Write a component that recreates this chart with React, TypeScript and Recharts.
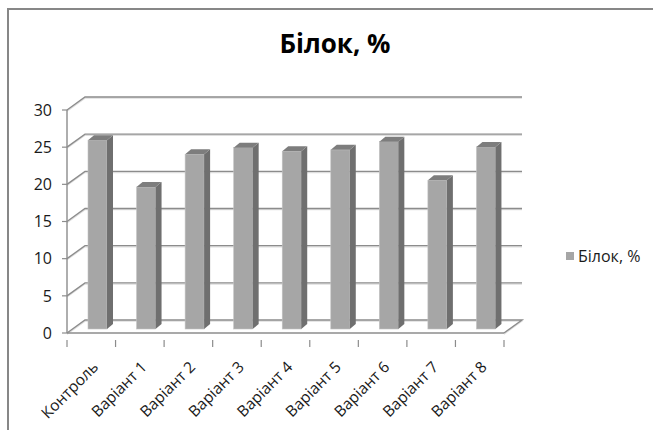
import React from "react";
import { BarChart, Bar, XAxis, YAxis, CartesianGrid } from "recharts";

const categories = ["Контроль", "Варіант 1", "Варіант 2", "Варіант 3", "Варіант 4", "Варіант 5", "Варіант 6", "Варіант 7", "Варіант 8"];
const proteinValues = [25.4, 19.1, 23.5, 24.4, 23.9, 24.1, 25.2, 20.0, 24.5];
const yTicks = [0, 5, 10, 15, 20, 25, 30];
const seriesName = "Білок, %";
const chartTitle = "Білок, %";

const data = categories.map((c, i) => ({ name: c, value: proteinValues[i] }));

const FONT = "'Open Sans', 'Noto Sans', sans-serif";
const GRID = "#8c8c8c";
const DX = 18;
const DY = -13;
const BAR_DX = 6;
const BAR_DY = -4;
const SIDE_DX = 6;
const SIDE_DY = -5;

const gridLine = (props: any) => {
  const { x1, x2, y1, index } = props;
  const isBottom = Math.abs(y1 - 333) < 2;
  const d = `M${x1},${y1} L${x1 + DX},${y1 + DY} L${x2 + DX},${y1 + DY}` + (isBottom ? ` L${x2},${y1}` : "");
  return (
    <g key={`gl-${index}`}>
      <path d={d} transform="translate(0,1.2)" fill="none" stroke="#dedede" strokeWidth={1.2} />
      <path d={d} fill="none" stroke={GRID} strokeWidth={1.4} />
    </g>
  );
};

const Bar3D = (props: any) => {
  const { x, y, width, height } = props;
  const fx = x + BAR_DX;
  const fy = y + BAR_DY;
  const w = width;
  const h = height;
  const top = `M${fx},${fy} L${fx + SIDE_DX},${fy + SIDE_DY} L${fx + w + SIDE_DX},${fy + SIDE_DY} L${fx + w},${fy} Z`;
  const side = `M${fx + w},${fy} L${fx + w + SIDE_DX},${fy + SIDE_DY} L${fx + w + SIDE_DX},${fy + h + SIDE_DY} L${fx + w},${fy + h} Z`;
  return (
    <g>
      <rect x={fx} y={fy} width={w} height={h} fill="#a6a6a6" stroke="#c4c4c4" strokeWidth={0.6} />
      <path d={side} fill="#6f6f6f" />
      <path d={top} fill="#7d7d7d" />
    </g>
  );
};

const XTick = (props: any) => {
  const { x, y, payload, index, visibleTicksCount } = props;
  const half = 437 / 9 / 2;
  return (
    <g>
      <line x1={x - half} y1={y - 1} x2={x - half} y2={y + 6} stroke={GRID} strokeWidth={1.2} />
      {index === visibleTicksCount - 1 && (
        <line x1={x + half} y1={y - 1} x2={x + half} y2={y + 6} stroke={GRID} strokeWidth={1.2} />
      )}
      <text
        x={x + 8}
        y={y + 27}
        textAnchor="end"
        transform={`rotate(-45, ${x + 8}, ${y + 27})`}
        fontFamily={FONT}
        fontSize={15.5}
        fill="#1a1a1a"
      >
        {payload.value}
      </text>
    </g>
  );
};

export default function App() {
  return (
    <div style={{ position: "absolute", left: 0, top: 0, width: 653, height: 430, overflow: "hidden", background: "#fff" }}>
      <div
        style={{
          position: "absolute",
          left: 7,
          top: 8,
          width: 700,
          height: 500,
          border: "2px solid #878787",
          boxSizing: "border-box",
        }}
      />
      <div
        style={{
          position: "absolute",
          left: 0,
          width: 670,
          top: 26,
          textAlign: "center",
          fontFamily: FONT,
          fontWeight: 700,
          fontSize: 26,
          color: "#000",
          lineHeight: "34px",
        }}
      >
        {chartTitle}
      </div>
      <div style={{ position: "absolute", left: 0, top: 0 }}>
        <BarChart width={653} height={430} data={data} margin={{ top: 110, left: 66, right: 149, bottom: 96 }} barSize={19}>
          <CartesianGrid vertical={false} horizontal={gridLine} />
          <XAxis
            dataKey="name"
            height={1}
            axisLine={{ stroke: GRID, strokeWidth: 1.4 }}
            tickLine={false}
            tick={<XTick />}
            interval={0}
          />
          <YAxis
            width={1}
            domain={[0, 30]}
            ticks={yTicks}
            axisLine={{ stroke: GRID, strokeWidth: 1.4 }}
            tickLine={{ stroke: GRID, strokeWidth: 1.2 }}
            tickSize={5}
            tickMargin={10}
            tick={{ fontFamily: FONT, fontSize: 16, fill: "#1a1a1a" }}
          />
          <Bar dataKey="value" name={seriesName} shape={<Bar3D />} isAnimationActive={false} />
        </BarChart>
      </div>
      <div
        style={{
          position: "absolute",
          left: 566,
          top: 245,
          display: "flex",
          alignItems: "center",
          fontFamily: FONT,
          fontSize: 16,
          lineHeight: "22px",
          color: "#1a1a1a",
          whiteSpace: "nowrap",
        }}
      >
        <span style={{ display: "inline-block", width: 8, height: 8, background: "#a6a6a6", marginRight: 4 }} />
        <span>{seriesName}</span>
      </div>
    </div>
  );
}
